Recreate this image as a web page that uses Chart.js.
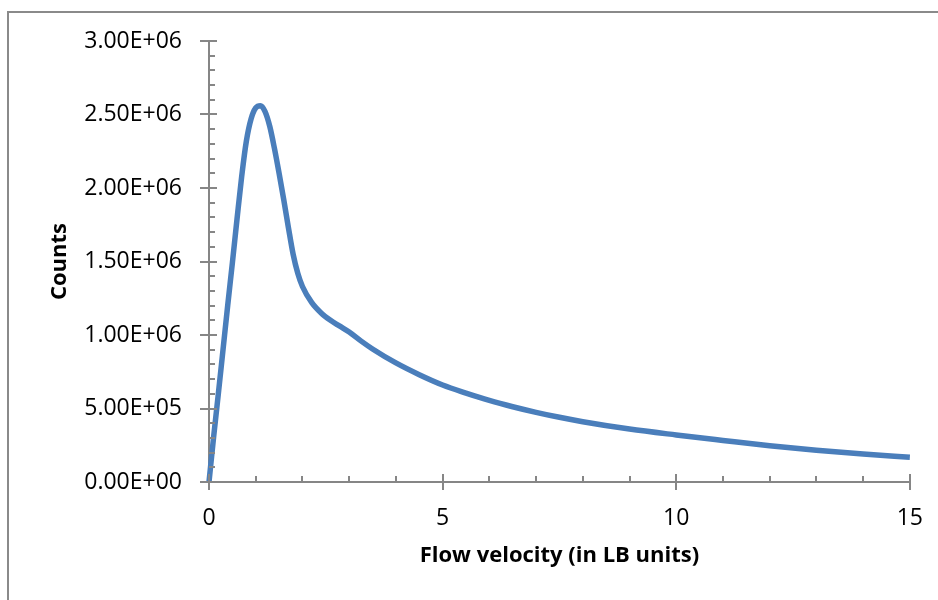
<!DOCTYPE html>
<html>
<head>
<meta charset="utf-8">
<script src="https://cdn.jsdelivr.net/npm/chart.js@4"></script>
<style>
  body { margin: 0; background: #fff; }
  #frame {
    position: absolute; left: 7px; top: 11px; width: 1000px; height: 700px;
    border-left: 2px solid #8a8a8a; border-top: 2px solid #8a8a8a;
  }
  #chart { position: absolute; left: 0; top: 0; }
</style>
</head>
<body>
<div id="frame"></div>
<canvas id="chart" width="938" height="600"></canvas>
<script>
// flow velocity (LB units) and counts
const velocities = [0, 0.1, 0.2, 0.3, 0.4, 0.5, 0.6, 0.7, 0.8, 0.9, 1.0, 1.1, 1.2, 1.3, 1.4,
  1.5, 1.6, 1.7, 1.8, 1.9, 2.0, 2.2, 2.4, 2.6, 2.8, 3.0, 3.25, 3.5, 4.0, 4.5, 5.0, 5.5,
  6.0, 6.5, 7.0, 7.5, 8.0, 9.0, 10.0, 11.0, 12.0, 13.0, 14.0, 15.0];
const counts = [0, 0.31e6, 0.6e6, 0.9e6, 1.2e6, 1.49e6, 1.79e6, 2.08e6, 2.32e6, 2.47e6,
  2.545e6, 2.56e6, 2.52e6, 2.42e6, 2.27e6, 2.10e6, 1.92e6, 1.73e6, 1.55e6, 1.42e6,
  1.33e6, 1.22e6, 1.15e6, 1.10e6, 1.06e6, 1.02e6, 0.96e6, 0.905e6, 0.81e6, 0.73e6,
  0.66e6, 0.605e6, 0.555e6, 0.512e6, 0.474e6, 0.44e6, 0.41e6, 0.36e6, 0.32e6, 0.283e6,
  0.247e6, 0.216e6, 0.19e6, 0.168e6];

const xMajorTicks = [0, 5, 10, 15];
const xMinorTicks = [1, 2, 3, 4, 6, 7, 8, 9, 11, 12, 13, 14];
const yMajorTicks = [0, 5e5, 1e6, 1.5e6, 2e6, 2.5e6, 3e6];
const yMinorStep = 1e5;

const AXIS_COLOR = "#868686";
const FONT = "'Open Sans', Lato, sans-serif";

function sciLabel(v) {
  const [m, e] = v.toExponential(2).split("e");
  const sign = e[0] === "-" ? "-" : "+";
  const digits = e.replace(/[+-]/, "").padStart(2, "0");
  return m + "E" + sign + digits;
}

// Excel style tick marks: major ticks cross the axis, minor ones sit inside
const tickMarks = {
  id: "tickMarks",
  afterDraw(chart) {
    const { ctx, scales: { x, y } } = chart;
    const x0 = x.getPixelForValue(0);
    const y0 = y.getPixelForValue(0);
    ctx.save();
    ctx.strokeStyle = AXIS_COLOR;
    ctx.lineWidth = 2;
    ctx.beginPath();
    xMajorTicks.forEach((v) => {
      const px = Math.round(x.getPixelForValue(v));
      ctx.moveTo(px, y0 - 8);
      ctx.lineTo(px, y0 + 8);
    });
    xMinorTicks.forEach((v) => {
      const px = Math.round(x.getPixelForValue(v));
      ctx.moveTo(px, y0 - 6);
      ctx.lineTo(px, y0);
    });
    for (let v = 0; v <= 3e6 + 1; v += yMinorStep) {
      const py = Math.round(y.getPixelForValue(v));
      const major = yMajorTicks.some((t) => Math.abs(t - v) < 1);
      ctx.moveTo(major ? x0 - 9 : x0, py);
      ctx.lineTo(major ? x0 + 8 : x0 + 6, py);
    }
    ctx.stroke();
    ctx.restore();
  },
};

new Chart(document.getElementById("chart"), {
  type: "line",
  data: {
    datasets: [{
      data: velocities.map((v, i) => ({ x: v, y: counts[i] })),
      borderColor: "#4a7ebb",
      borderWidth: 5.5,
      pointRadius: 0,
      cubicInterpolationMode: "monotone",
      clip: false,
    }],
  },
  options: {
    responsive: false,
    animation: false,
    layout: { padding: { left: 0, top: 41, right: 25, bottom: 0 } },
    plugins: { legend: { display: false }, tooltip: { enabled: false } },
    scales: {
      x: {
        type: "linear",
        min: 0,
        max: 15,
        afterFit: (s) => { s.height = 118; },
        grid: { display: false },
        border: { display: true, color: AXIS_COLOR, width: 2 },
        ticks: {
          stepSize: 5,
          padding: 15,
          color: "#000",
          font: { family: FONT, size: 23 },
          maxRotation: 0,
        },
        title: {
          display: true,
          text: "Flow velocity (in LB units)",
          color: "#000",
          font: { family: FONT, size: 22, weight: "bold" },
          padding: { bottom: 31 },
        },
      },
      y: {
        min: 0,
        max: 3e6,
        afterFit: (s) => { s.width = 209; },
        grid: { display: false },
        border: { display: true, color: AXIS_COLOR, width: 2 },
        ticks: {
          stepSize: 5e5,
          padding: 19,
          color: "#000",
          font: { family: FONT, size: 23 },
          callback: (v) => sciLabel(v),
        },
        title: {
          display: true,
          text: "Counts",
          color: "#000",
          font: { family: FONT, size: 22, weight: "bold" },
          padding: { top: 47 },
        },
      },
    },
  },
  plugins: [tickMarks],
});
</script>
</body>
</html>
